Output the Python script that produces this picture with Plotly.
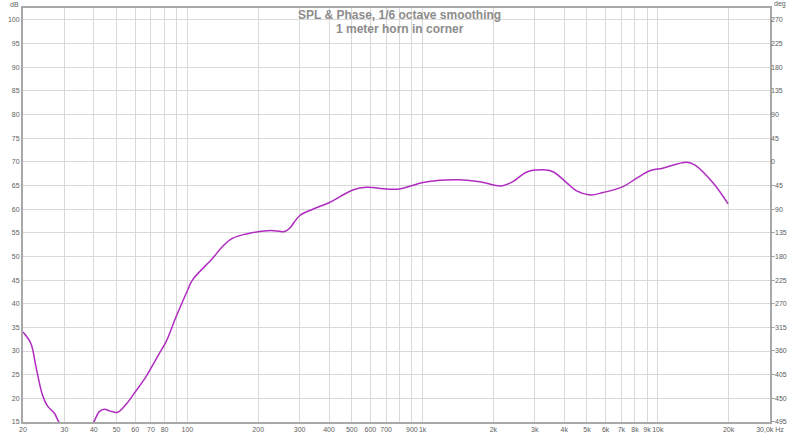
import plotly.graph_objects as go
import math

# Frequency response (SPL, dB)
freq_hz = [20, 21.6, 22.7, 24.2, 25.4, 27.2, 28.4, 31, 34, 37.5, 40, 42.2, 44.4, 47, 50.5,
           55, 59.5, 66.7, 76, 81.2, 89.6, 100.3, 105, 128, 141, 156, 178, 203, 227,
           259, 272, 300, 341, 402, 505, 577, 701, 798, 1003, 1182, 1439, 1750, 2165,
           2422, 2761, 3250, 3586, 4092, 4515, 5142, 5851, 7119, 8112, 9245, 10500,
           13250, 14400, 17200, 19900]
spl_db = [34.0, 31.6, 26.7, 20.7, 18.4, 16.85, 15.0, 12.6, 11.5, 12.8, 15.0, 17.2, 17.7, 17.3, 17.05,
          18.8, 21.1, 24.6, 29.5, 32.0, 37.3, 42.9, 45.0, 49.6, 52.1, 53.85, 54.75, 55.25, 55.5,
          55.25, 55.95, 58.6, 59.97, 61.4, 64.05, 64.6, 64.25, 64.25, 65.6, 66.1, 66.2, 65.8, 64.9,
          65.8, 67.8, 68.3, 67.9, 65.6, 63.85, 63.0, 63.5, 64.75, 66.5, 68.1, 68.65,
          69.9, 69.3, 65.5, 61.1]

# Axis ticks
x_grid = [20, 30, 40, 50, 60, 70, 80, 90, 100, 200, 300, 400, 500, 600, 700, 800, 900, 1000,
          2000, 3000, 4000, 5000, 6000, 7000, 8000, 9000, 10000, 20000, 30000]
x_labels = ["20", "30", "40", "50", "60", "70", "80", "", "100", "200", "300", "400", "500", "600",
            "700", "", "900", "1k", "2k", "3k", "4k", "5k", "6k", "7k", "8k", "9k", "10k", "20k",
            "30,0k Hz"]
db_ticks = list(range(15, 101, 5))
deg_ticks = list(range(-495, 271, 45))

db_range = [15, 102.5]
deg_range = [(db_range[0] - 15) * 9 - 495, (db_range[1] - 15) * 9 - 495]

fig = go.Figure()
fig.add_trace(go.Scatter(x=freq_hz, y=spl_db, mode="lines",
                         line=dict(color="#b02cc0", width=1.5, shape="spline", smoothing=1.0),
                         showlegend=False, hoverinfo="skip"))
# invisible trace for the phase axis
fig.add_trace(go.Scatter(x=[20], y=[0], yaxis="y2", mode="markers",
                         marker=dict(opacity=0), showlegend=False, hoverinfo="skip"))

tick_font = dict(family="Liberation Sans, Arial", size=7, color="#606060")
title_font = dict(family="Liberation Sans, Arial", size=12, color="#8c8c8c", weight="bold")
grid_c = "#d9d9d9"
axis_c = "#a8a8a8"

fig.update_layout(
    width=800, height=435,
    margin=dict(l=23, r=30, t=8, b=13),
    paper_bgcolor="white", plot_bgcolor="white",
    xaxis=dict(type="log", range=[math.log10(20), math.log10(30000)],
               tickvals=x_grid, ticktext=x_labels, tickfont=tick_font, tickangle=0,
               showgrid=True, gridcolor=grid_c, gridwidth=1, automargin=False,
               showline=True, linecolor=axis_c, linewidth=2, mirror=True,
               ticks="", ticklen=0, zeroline=False),
    yaxis=dict(range=db_range, tickvals=db_ticks, tickfont=tick_font, automargin=False,
               showgrid=True, gridcolor=grid_c, gridwidth=1,
               showline=True, linecolor=axis_c, linewidth=2, mirror=True,
               ticks="", zeroline=False),
    yaxis2=dict(range=deg_range, tickvals=deg_ticks, tickfont=tick_font, automargin=False,
                overlaying="y", side="right", showgrid=False, zeroline=False,
                showline=False, ticks=""),
    annotations=[
        dict(text="SPL & Phase, 1/6 octave smoothing", xref="paper", yref="paper",
             x=0.5, y=1, xanchor="center", yanchor="middle", yshift=-7, xshift=3,
             showarrow=False, font=title_font),
        dict(text="1 meter horn in corner", xref="paper", yref="paper",
             x=0.5, y=1, xanchor="center", yanchor="middle", yshift=-21, xshift=3,
             showarrow=False, font=title_font),
        dict(text="dB", xref="paper", yref="paper", x=0, y=1, xanchor="right", yanchor="bottom",
             xshift=-2, yshift=-2, showarrow=False, font=tick_font),
        dict(text="deg", xref="paper", yref="paper", x=1, y=1, xanchor="left", yanchor="bottom",
             xshift=2, yshift=-2, showarrow=False, font=tick_font),
    ],
)

fig.write_html("out.html", config={"displayModeBar": False},
               post_script="document.body.style.margin='0px';document.body.style.overflow='hidden';")
